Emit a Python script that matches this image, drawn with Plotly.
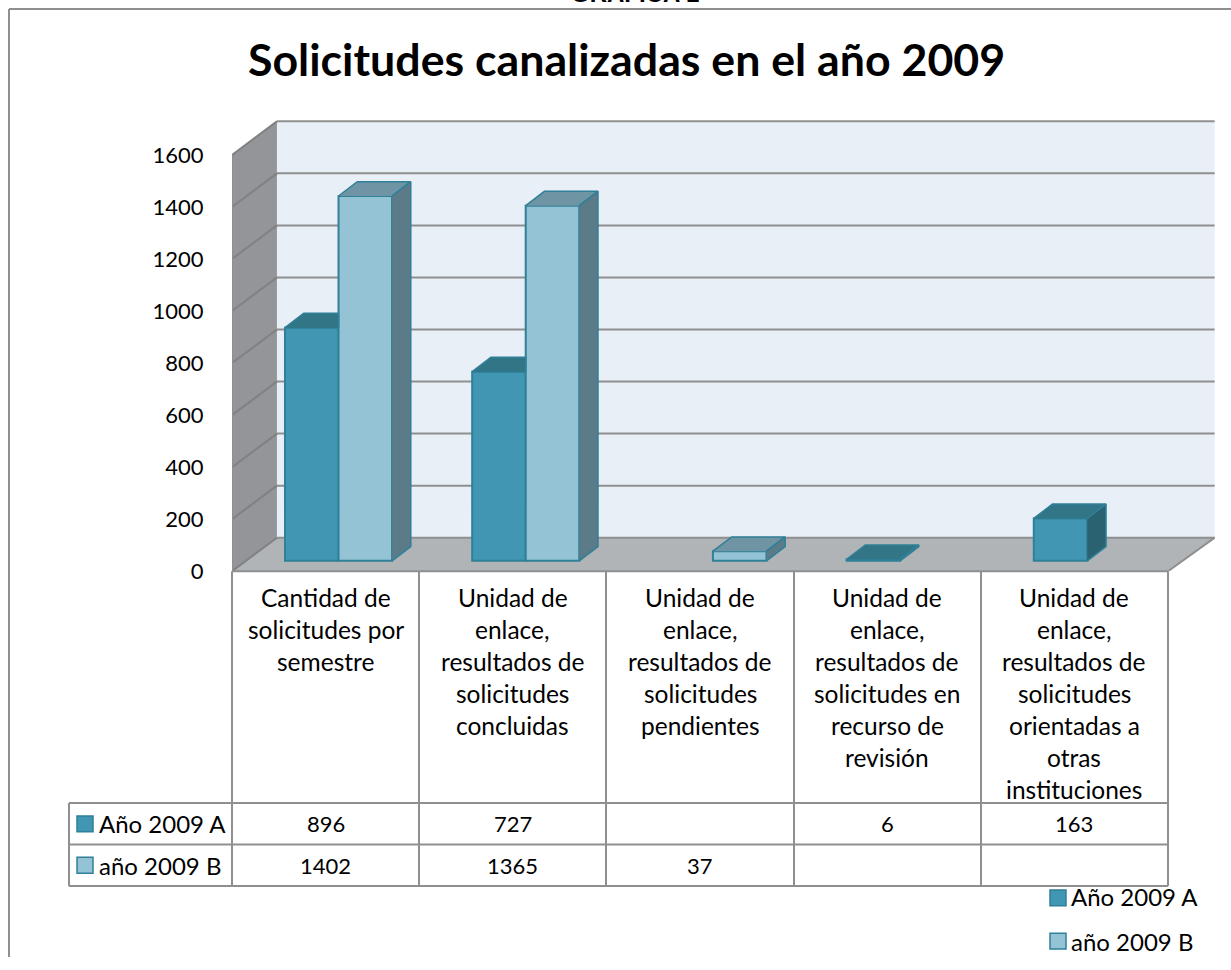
import plotly.graph_objects as go

categories = [
    ['Cantidad de', 'solicitudes por', 'semestre'],
    ['Unidad de', 'enlace,', 'resultados de', 'solicitudes', 'concluidas'],
    ['Unidad de', 'enlace,', 'resultados de', 'solicitudes', 'pendientes'],
    ['Unidad de', 'enlace,', 'resultados de', 'solicitudes en', 'recurso de', 'revisión'],
    ['Unidad de', 'enlace,', 'resultados de', 'solicitudes', 'orientadas a', 'otras', 'instituciones'],
]
name_a = 'Año 2009 A'
name_b = 'año 2009 B'
values_a = [896, 727, None, 6, 163]
values_b = [1402, 1365, 37, None, None]
y_ticks = [0, 200, 400, 600, 800, 1000, 1200, 1400, 1600]

W, H = 1231, 970
FONT = 'Lato, Carlito, sans-serif'
TXT = '#000000'
GRID = '#8f8f8f'
EDGE = '#2f8098'
COL_A = '#4197b3'
COL_B = '#93c3d5'
SIZE_WORD = 24
SIZE_CAT = 24.5
SIZE_NUM = 22

# 3d look, all in axis units
WALL_DX, WALL_DY = 0.24, 129    # depth of floor
BAR_DX, BAR_DY = 0.10, 55       # depth of a bar
FLOOR = 40                      # bars stand a bit in on the floor
BAR_W = 0.286
SHIFT = 0.069                   # bar groups sit right of the category centre
X_MAX = 4.75
Y_MAX = 1780


def xp(px):
    return px / W


def yp(px):
    return 1 - px / H


def poly(xs, ys, fill, line=None, width=0, layer='below', xref='x', yref='y'):
    path = 'M' + 'L'.join(f'{x},{y}' for x, y in zip(xs, ys)) + 'Z'
    return dict(type='path', path=path, xref=xref, yref=yref, fillcolor=fill, layer=layer,
                line=dict(color=line if line else fill, width=width))


def seg(x0, y0, x1, y1, color=GRID, width=2, xref='paper', yref='paper', layer='above'):
    return dict(type='line', x0=x0, y0=y0, x1=x1, y1=y1, xref=xref, yref=yref, layer=layer,
                line=dict(color=color, width=width))


def text(s, x, y, size=SIZE_WORD, xref='paper', yref='paper', anchor='center', **kw):
    return dict(text=s, x=x, y=y, xref=xref, yref=yref, xanchor=anchor, yanchor=kw.pop('yanchor', 'middle'),
                showarrow=False, font=dict(family=kw.pop('family', FONT), size=size, color=TXT), **kw)


def key(px, py, color):
    return poly([xp(px), xp(px + 16), xp(px + 16), xp(px)], [yp(py), yp(py), yp(py + 16), yp(py + 16)],
                color, EDGE, 1.5, 'above', 'paper', 'paper')


xs = [i + SHIFT for i in range(len(categories))]

fig = go.Figure()
fig.add_trace(go.Bar(x=xs, y=values_a, base=FLOOR, name=name_a,
                     marker=dict(color=COL_A, line=dict(color=EDGE, width=2))))
fig.add_trace(go.Bar(x=xs, y=values_b, base=FLOOR, name=name_b,
                     marker=dict(color=COL_B, line=dict(color=EDGE, width=2))))


def add_faces(value, left, right, top_col, side_col, covered):
    # top and side face of one bar; the part behind the neighbour bar is left out
    t = FLOOR + value
    far = right if covered else right + BAR_DX
    fig.add_trace(go.Scatter(x=[left, left + BAR_DX, far, right], y=[t, t + BAR_DY, t + BAR_DY, t],
                             mode='lines', fill='toself', fillcolor=top_col, line=dict(color=EDGE, width=1.5),
                             hoverinfo='skip'))
    if not covered:
        fig.add_trace(go.Scatter(x=[right, right + BAR_DX, right + BAR_DX, right],
                                 y=[t, t + BAR_DY, FLOOR + BAR_DY, FLOOR],
                                 mode='lines', fill='toself', fillcolor=side_col, line=dict(color=EDGE, width=1.5),
                                 hoverinfo='skip'))


for i, x in enumerate(xs):
    if values_a[i] is not None:
        add_faces(values_a[i], x - BAR_W, x, '#317587', '#2a6272', values_b[i] is not None)
    if values_b[i] is not None:
        add_faces(values_b[i], x, x + BAR_W, '#6f94a3', '#5a7b87', False)

x0 = -0.5
x_end = len(categories) - 0.5
shapes = [
    poly([x0 + WALL_DX, X_MAX, X_MAX, x0 + WALL_DX], [WALL_DY, WALL_DY, y_ticks[-1] + WALL_DY, y_ticks[-1] + WALL_DY], '#e8eff6'),
    poly([x0, x0 + WALL_DX, x0 + WALL_DX, x0], [0, WALL_DY, y_ticks[-1] + WALL_DY, y_ticks[-1]], '#939598'),
    poly([x0, x0 + WALL_DX, X_MAX, x_end], [0, WALL_DY, WALL_DY, 0], '#b1b4b6'),
]
for t in y_ticks:
    shapes.append(seg(x0 + WALL_DX, t + WALL_DY, X_MAX, t + WALL_DY, xref='x', yref='y', layer='below'))
    shapes.append(seg(x0, t, x0 + WALL_DX, t + WALL_DY, color='#7f8183', xref='x', yref='y', layer='below'))
shapes.append(seg(x0, y_ticks[0], x0, y_ticks[-1], xref='x', yref='y', layer='below'))
shapes.append(seg(x_end, 0, X_MAX, WALL_DY, xref='x', yref='y', layer='below'))

# outer frame, cut by the page on two sides
shapes.append(seg(xp(9), yp(9), xp(W), yp(9)))
shapes.append(seg(xp(9), yp(9), xp(9), yp(H)))

# data table under the plot
table_cols = [232, 419, 606, 794, 981, 1168]
table_rows = [814, 856, 898]
for px in table_cols:
    shapes.append(seg(xp(px), yp(579), xp(px), yp(898)))
shapes.append(seg(xp(232), yp(579), xp(1168), yp(579)))
for py in table_rows:
    shapes.append(seg(xp(69), yp(py), xp(1168), yp(py)))
shapes.append(seg(xp(69), yp(814), xp(69), yp(898)))
shapes += [key(77, 827, COL_A), key(77, 869, COL_B), key(1050, 902, COL_A), key(1050, 946, COL_B)]

notes = [
    text('<b>Solicitudes canalizadas en el año 2009</b>', xp(626), yp(60), size=44.7),
    text('<b>GRAFICA 1</b>', xp(635), yp(9), size=24, family='Liberation Sans', yanchor='bottom'),
    text(name_a, xp(97), yp(835), anchor='left'),
    text(name_b, xp(97), yp(877), anchor='left'),
    text(name_a, xp(1069), yp(909), anchor='left'),
    text(name_b, xp(1069), yp(954), anchor='left'),
]
for i, lines in enumerate(categories):
    for j, line in enumerate(lines):
        notes.append(text(line, i, yp(606 + j * 32.4), size=SIZE_CAT, xref='x'))
    if values_a[i] is not None:
        notes.append(text(str(values_a[i]), i, yp(835), size=SIZE_NUM, xref='x'))
    if values_b[i] is not None:
        notes.append(text(str(values_b[i]), i, yp(877), size=SIZE_NUM, xref='x'))

fig.update_layout(
    width=W, height=H,
    margin=dict(l=0, r=0, t=0, b=0),
    paper_bgcolor='white', plot_bgcolor='rgba(0,0,0,0)',
    barmode='group', bargap=1 - 2 * BAR_W, bargroupgap=0,
    showlegend=False,
    font=dict(family=FONT, size=SIZE_NUM, color=TXT),
    shapes=shapes, annotations=notes,
    xaxis=dict(domain=[xp(232), xp(232 + (X_MAX + 0.5) * 187.2)], range=[x0, X_MAX],
               showticklabels=False, showgrid=False, zeroline=False, ticks=''),
    yaxis=dict(domain=[yp(579), yp(579 - Y_MAX * 0.26375)], range=[0, Y_MAX],
               tickvals=y_ticks, showgrid=False, zeroline=False, ticks='outside', ticklen=23,
               tickcolor='rgba(0,0,0,0)', tickfont=dict(family=FONT, size=SIZE_NUM, color=TXT)),
)

# page margin would push the figure out of the window
fig.write_html("out.html", config={'displayModeBar': False},
               post_script='document.body.style.margin="0";document.body.style.overflow="hidden";')
